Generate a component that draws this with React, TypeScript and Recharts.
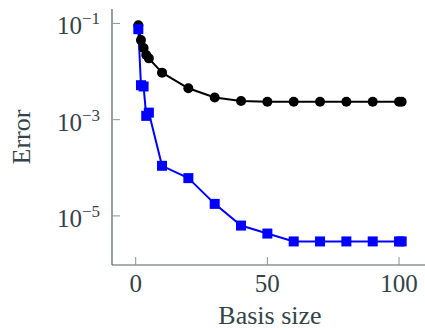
import React from 'react';
import { LineChart, Line, XAxis, YAxis } from 'recharts';

const basisSize = [1, 2, 3, 4, 5, 10, 20, 30, 40, 50, 60, 70, 80, 90, 100, 101];
const errBlack = [
  0.092, 0.045, 0.031, 0.022, 0.0188, 0.0095, 0.0045, 0.0029, 0.00245, 0.00236,
  0.00236, 0.00236, 0.00236, 0.00236, 0.00236, 0.00236,
];
const errBlue = [
  0.076, 0.0052, 0.0049, 0.0012, 0.0014, 1.1e-4, 6.1e-5, 1.78e-5, 6.3e-6, 4.3e-6,
  2.95e-6, 2.95e-6, 2.95e-6, 2.95e-6, 2.95e-6, 2.95e-6,
];
const xTicks = [0, 50, 100];
const yTicks = [1e-1, 1e-3, 1e-5];

const data = basisSize.map((n, i) => ({ n, black: errBlack[i], blue: errBlue[i] }));

const TEXT = '#34434a';
const FRAME = '#56605f';
const TICK = '#8a9393';
const FONT = '"Liberation Serif", "DejaVu Serif", serif';

const XTick = (props: any) => {
  const { x, y, payload } = props;
  return (
    <text x={x} y={y + 27} textAnchor="middle" fill={TEXT} fontFamily={FONT} fontSize={25}>
      {payload.value}
    </text>
  );
};

const YTick = (props: any) => {
  const { x, y, payload } = props;
  const exp = Math.round(Math.log10(payload.value));
  return (
    <text x={x} y={y + 11} textAnchor="end" fill={TEXT} fontFamily={FONT} fontSize={25}>
      <tspan>10</tspan>
      <tspan dy={-10} fontSize={17}>{'\u2212' + Math.abs(exp)}</tspan>
    </text>
  );
};

const NoLabel = () => null;

const Square = (props: any) => {
  const { cx, cy, index } = props;
  if (cx == null || cy == null) return <g key={index} />;
  return <rect key={index} x={cx - 5} y={cy - 5} width={10} height={10} fill="#0000ff" />;
};

export default function App() {
  return (
    <div style={{ position: 'absolute', left: 0, top: 0, width: 440, height: 330 }}>
      <LineChart width={440} height={330} data={data} margin={{ top: 9, right: 12, bottom: 0, left: 0 }}>
        <XAxis
          dataKey="n"
          type="number"
          domain={[-9, 111]}
          ticks={xTicks}
          allowDataOverflow
          height={65}
          axisLine={{ stroke: FRAME, strokeWidth: 1.2 }}
          tickLine={{ stroke: TICK }}
          tickSize={-8}
          tickMargin={8}
          tick={XTick}
          label={{ value: 'Basis size', position: 'insideBottom', offset: 6, fill: TEXT, fontFamily: FONT, fontSize: 26 }}
        />
        <XAxis
          xAxisId="top"
          orientation="top"
          dataKey="n"
          type="number"
          domain={[-9, 111]}
          ticks={xTicks}
          allowDataOverflow
          height={0}
          axisLine={{ stroke: FRAME, strokeWidth: 1.2 }}
          tickLine={{ stroke: TICK }}
          tickSize={-8}
          tick={NoLabel}
        />
        <YAxis
          scale="log"
          type="number"
          domain={[Math.pow(10, -6.02), Math.pow(10, -0.7)]}
          ticks={yTicks}
          allowDataOverflow
          width={112}
          axisLine={{ stroke: FRAME, strokeWidth: 1.2 }}
          tickLine={{ stroke: TICK }}
          tickSize={-8}
          tickMargin={20}
          tick={YTick}
          label={{ value: 'Error', angle: -90, position: 'insideLeft', offset: 21, fill: TEXT, fontFamily: FONT, fontSize: 26, style: { textAnchor: 'middle' } }}
        />
        <YAxis
          yAxisId="right"
          orientation="right"
          scale="log"
          type="number"
          domain={[Math.pow(10, -6.02), Math.pow(10, -0.7)]}
          ticks={yTicks}
          allowDataOverflow
          width={0}
          axisLine={{ stroke: FRAME, strokeWidth: 1.2 }}
          tickLine={{ stroke: TICK }}
          tickSize={-8}
          tick={NoLabel}
        />
        <Line
          dataKey="black"
          stroke="#000000"
          strokeWidth={2}
          dot={{ r: 5, fill: '#000000', stroke: '#000000', strokeWidth: 0 }}
          isAnimationActive={false}
        />
        <Line
          dataKey="blue"
          stroke="#0000ff"
          strokeWidth={2}
          dot={Square}
          isAnimationActive={false}
        />
      </LineChart>
    </div>
  );
}
